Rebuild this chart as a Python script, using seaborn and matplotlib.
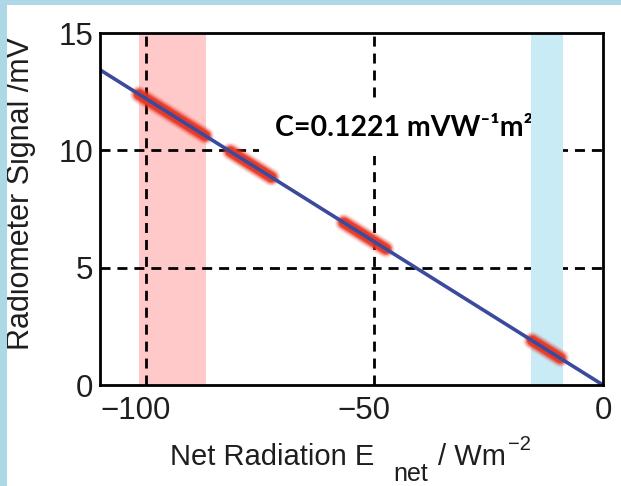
import matplotlib
matplotlib.use("Agg")
import matplotlib.pyplot as plt
from matplotlib.patches import Rectangle
from matplotlib.transforms import ScaledTranslation
import pandas as pd
import seaborn as sns

# Calibration constant (mV per W m^-2) and fit range
C = 0.1221
fit_x = [-110.0, 0.0]

# Measured runs: start/end of each cluster of readings
run_x_start = [-101.5, -81.5, -56.7, -15.5]
run_x_end = [-87.0, -72.5, -47.5, -9.3]
run_y_start = [12.38, 9.95, 6.92, 1.89]
run_y_end = [10.62, 8.85, 5.80, 1.14]

# Shaded regimes
night_band = [-101.5, -86.8]
day_band = [-15.8, -8.7]

# Axis ticks and reference lines
x_ticks = [-100, -50, 0]
x_tick_labels = ["\u2212100", "\u221250", "0"]
y_ticks = [0, 5, 10, 15]
grid_x = [-100, -50]
grid_y = [5, 10]

W, H = 621, 486
TXT = "#1e1e1e"

sns.set_theme(style="white")
plt.rcParams["font.family"] = ["Liberation Sans", "DejaVu Sans"]

fig = plt.figure(figsize=(W / 100, H / 100), dpi=100, facecolor="white")
# light-blue frame strips on the left and top
fig.patches.append(Rectangle((0, 0), 7 / W, 1, transform=fig.transFigure,
                             facecolor="#aed8e5", edgecolor="none", zorder=0))
fig.patches.append(Rectangle((0, 1 - 5 / H), 1, 5 / H, transform=fig.transFigure,
                             facecolor="#aed8e5", edgecolor="none", zorder=0))

ax = fig.add_axes([100 / W, 1 - 385 / H, 503 / W, 352 / H])

ax.axvspan(*night_band, color="#ffc9c9", lw=0, zorder=0.5)
ax.axvspan(*day_band, color="#c8ebf6", lw=0, zorder=2.6)

dash = (0, (3.6, 2.5))
for gx in grid_x:
    ax.axvline(gx, color="black", lw=2, ls=dash, zorder=1)
for gy in grid_y:
    ax.axhline(gy, color="black", lw=2, ls=dash, zorder=1)

runs = []
for i, (x0, x1, y0, y1) in enumerate(zip(run_x_start, run_x_end, run_y_start, run_y_end)):
    runs.append({"run": i, "x": x0, "y": y0})
    runs.append({"run": i, "x": x1, "y": y1})
runs = pd.DataFrame(runs)

# soft thick red strokes for the readings
for lw, alpha in [(13, 0.12), (11, 0.25), (9, 0.5), (7, 0.85)]:
    sns.lineplot(data=runs, x="x", y="y", units="run", estimator=None, sort=False,
                 color="#e8321e", lw=lw, alpha=alpha, solid_capstyle="round",
                 legend=False, ax=ax, zorder=3)

fit = pd.DataFrame({"x": fit_x, "y": [-C * v for v in fit_x]})
sns.lineplot(data=fit, x="x", y="y", color="#3a4a9c", lw=2.6, legend=False, ax=ax, zorder=4)

ann = ax.text(-43.6, 10.95, "C=%.4f mVW\u207b\u00b9m\u00b2" % C, fontsize=20.5, fontweight="bold",
              family=["Lato", "DejaVu Sans"], color="black", ha="center", va="center",
              zorder=2.5)
ann.set_bbox(dict(facecolor="white", edgecolor="none", pad=11))

ax.set_xlim(-110, 0)
ax.set_ylim(0, 15)
ax.set_xticks(x_ticks)
ax.set_yticks(y_ticks)
ax.set_xticklabels(x_tick_labels)
ax.tick_params(axis="both", direction="in", length=5, width=1.5, colors="black",
               labelsize=22.5, labelcolor=TXT)
ax.tick_params(axis="x", pad=8)
ax.tick_params(axis="y", pad=5)
# negative labels sit slightly left of their ticks
for tick, val in zip(ax.xaxis.get_major_ticks(), x_ticks):
    if val < 0:
        lab = tick.label1
        lab.set_transform(lab.get_transform() + ScaledTranslation(-0.10, 0, fig.dpi_scale_trans))
for s in ax.spines.values():
    s.set_color("black")
    s.set_linewidth(2)
    s.set_zorder(5)

ax.set_ylabel("Radiometer Signal /mV", fontsize=22, color=TXT)
ax.yaxis.set_label_coords(-0.128, 0.543)
ax.set_xlabel("")

# x-axis label assembled piecewise: full-size subscript, raised exponent
r = fig.canvas.get_renderer()


def piece(s, x_px, base_px, size):
    t = fig.text(x_px / W, 1 - base_px / H, s, fontsize=size, color=TXT,
                 ha="left", va="baseline")
    return t.get_window_extent(r).x1


x_end = piece("Net Radiation E", 170, 465, 21)
x_end = piece("net", x_end + 19, 481, 18)
x_end = piece("/ Wm", x_end + 10, 465, 21)
piece("\u22122", x_end + 2, 450, 14.5)

fig.savefig("out.png", dpi=100, facecolor="white")
